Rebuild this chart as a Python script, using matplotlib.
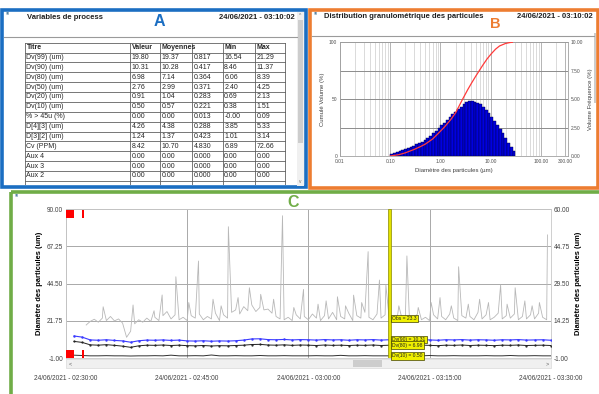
import matplotlib.pyplot as plt
from matplotlib.patches import Rectangle
from matplotlib.ticker import LogLocator, NullFormatter
import numpy as np

plt.rcParams['font.family'] = ['Liberation Sans', 'DejaVu Sans']

W, H = 599, 394

# ---- panel A : table "Variables de process" ----
table_header = ["Titre", "Valeur", "Moyennes", "", "Min", "Max"]
row_titles = ["Dv(99) (um)", "Dv(90) (um)", "Dv(80) (um)", "Dv(50) (um)", "Dv(20) (um)",
              "Dv(10) (um)", "% > 45u (%)", "D[4][3] (um)", "D[3][2] (um)", "Cv (PPM)",
              "Aux 4", "Aux 3", "Aux 2"]
valeur = [19.80, 10.31, 6.98, 2.76, 0.91, 0.50, 0.00, 4.26, 1.24, 8.42, 0.00, 0.00, 0.00]
moyenne = [19.37, 10.28, 7.14, 2.99, 1.04, 0.57, 0.00, 4.38, 1.37, 10.70, 0.00, 0.00, 0.00]
ecart = [0.817, 0.417, 0.364, 0.371, 0.283, 0.221, 0.013, 0.288, 0.423, 4.830, 0.000, 0.000, 0.000]
minimum = [16.54, 8.46, 6.06, 2.40, 0.69, 0.38, -0.00, 3.85, 1.01, 6.89, 0.00, 0.00, 0.00]
maximum = [21.29, 11.37, 8.39, 4.25, 2.13, 1.51, 0.09, 5.33, 3.14, 72.66, 0.00, 0.00, 0.00]

# ---- panel B : particle size distribution ----
vol_freq = [0.20, 0.28, 0.36, 0.44, 0.50, 0.58, 0.66, 0.79, 0.90, 1.03,
            1.15, 1.27, 1.39, 1.58, 1.79, 1.99, 2.20, 2.45, 2.69, 2.93,
            3.18, 3.42, 3.66, 3.91, 4.12, 4.34, 4.56, 4.72, 4.81, 4.83,
            4.78, 4.67, 4.55, 4.35, 4.05, 3.78, 3.47, 3.10, 2.74, 2.38,
            1.98, 1.57, 1.17, 0.78, 0.40]
cum_size = [0.1, 0.15, 0.2, 0.3, 0.4, 0.5, 0.7, 0.91, 1.2, 1.6, 2.0, 2.76, 3.5, 4.2,
            5.0, 6.0, 6.98, 8.5, 10.31, 12.5, 15.0, 19.8, 24.0, 27.0]
cum_vol = [0.0, 1.2, 2.8, 5.8, 8.3, 10.5, 15.0, 20.0, 25.5, 32.0, 38.0, 50.0, 58.5, 64.5,
           70.0, 75.5, 80.0, 85.5, 90.0, 94.0, 96.8, 99.0, 99.8, 100.0]
b_xticks = [0.01, 0.1, 1, 10, 100, 300]
b_xlabels = ["0.01", "0.10", "1.00", "10.00", "100.00", "300.00"]

# ---- panel C : time series (minutes after 02:30:00) ----
time_labels = ["24/06/2021 - 02:30:00", "24/06/2021 - 02:45:00", "24/06/2021 - 03:00:00",
               "24/06/2021 - 03:15:00", "24/06/2021 - 03:30:00"]
obs_t = np.arange(2.5, 60.0, 0.5)
obs_base = [19.3, 21.5, 22.8, 21.0, 23.5, 22.0, 24.5, 21.8, 23.0, 20.5,
            11.8, 15.5, 20.0, 22.5, 21.0, 23.5, 21.5, 24.0, 22.0, 25.0,
            27.5, 23.0, 25.5, 22.5, 24.0, 22.0, 25.0, 23.5, 26.0, 22.5,
            24.5, 23.0, 26.5, 22.0, 25.5, 23.5, 27.0, 28.5, 26.0, 30.5,
            28.0, 31.5, 27.5, 30.0, 28.5, 29.0, 26.5, 24.5, 23.0, 22.5,
            24.0, 22.0, 25.5, 23.0, 24.5, 22.5, 26.0, 23.5, 22.0, 25.0,
            23.0, 27.0, 22.5, 24.5, 23.0, 26.5, 22.0, 25.0, 23.5, 27.0,
            24.0, 22.5, 26.0, 23.5, 25.5, 23.3, 21.5, 23.5, 25.0, 22.0,
            24.5, 23.0, 26.0, 22.5, 24.0, 22.0, 25.5, 23.0, 24.5, 22.5,
            26.0, 23.5, 22.0, 25.0, 23.5, 24.5, 22.5, 27.0, 23.0, 25.5,
            22.5, 24.0, 26.5, 23.0, 25.0, 23.5, 26.0, 22.5, 24.5, 23.0,
            25.5, 23.0, 26.5, 24.0, 22.5]
spike_t = [4.6, 8.3, 10.9, 11.9, 13.6, 15.2, 16.4, 18.2, 19.2, 20.1, 21.3, 22.7, 24.1,
           25.7, 26.8, 28.2, 29.4, 31.2, 32.2, 33.6, 34.6, 35.6, 36.6, 37.4, 38.8,
           39.6, 41.2, 42.2, 43.6, 45.2, 46.3, 47.7, 48.6, 49.8, 51.2, 52.3, 53.8,
           54.6, 55.6, 56.8, 57.7, 58.6, 59.6]
spike_v = [30.4, 31.5, 28.0, 37.6, 48.7, 33.0, 58.3, 35.0, 31.0, 79.2, 36.0, 42.0, 38.0,
           35.0, 85.9, 30.0, 41.0, 32.0, 34.0, 36.5, 31.0, 37.5, 33.0, 64.0, 46.7,
           43.7, 31.0, 61.4, 30.0, 33.0, 36.0, 31.0, 54.8, 32.0, 35.0, 33.0, 43.7,
           32.0, 42.0, 34.0, 31.0, 33.0, 74.2]
dv_t = np.arange(1, 61)
dv90 = [12.6, 11.9, 10.2, 10.0, 10.3, 9.9, 9.6, 8.8, 9.7, 10.1,
        10.0, 10.2, 9.9, 10.1, 9.6, 9.5, 9.7, 9.4, 9.6, 9.5,
        9.7, 10.1, 10.8, 10.9, 10.4, 10.3, 10.5, 10.2, 10.4, 10.3,
        10.1, 10.4, 10.2, 10.3, 10.0, 10.3, 10.2, 10.4, 10.1, 10.31,
        10.2, 10.4, 10.1, 10.3, 10.2, 10.0, 10.3, 10.2, 10.4, 10.1,
        10.3, 10.2, 10.0, 10.3, 10.2, 10.4, 10.1, 10.2, 10.3, 10.0]
dv80 = [9.3, 8.7, 7.2, 7.0, 7.3, 6.9, 6.4, 5.7, 6.6, 7.0,
        6.9, 7.1, 6.8, 7.0, 6.7, 6.6, 6.8, 6.5, 6.7, 6.6,
        6.8, 7.0, 7.4, 7.5, 7.1, 7.0, 7.2, 6.9, 7.1, 7.0,
        6.8, 7.1, 6.9, 7.0, 6.8, 7.0, 6.9, 7.1, 6.8, 6.98,
        6.9, 7.1, 6.8, 7.0, 6.9, 6.7, 7.0, 6.9, 7.1, 6.8,
        7.0, 6.9, 6.7, 7.0, 6.9, 7.1, 6.8, 6.9, 7.0, 6.8]
dv10 = [0.9, 0.7, 0.5, 0.5, 0.6, 0.5, 0.5, 0.4, 0.5, 0.5,
        0.6, 0.5, 0.9, 0.5, 0.5, 0.6, 0.5, 1.0, 0.5, 0.5,
        0.6, 0.5, 0.5, 0.7, 0.5, 0.5, 0.6, 0.5, 0.5, 0.5,
        0.6, 0.5, 0.5, 0.8, 0.5, 0.5, 0.6, 0.5, 0.5, 0.50,
        0.5, 0.6, 0.5, 0.5, 0.7, 0.5, 0.5, 0.6, 0.5, 0.5,
        0.5, 0.6, 0.5, 0.5, 0.7, 0.5, 0.5, 0.6, 0.5, 0.5]
cursor_t = 40.03
cursor_labels = ["Obs = 23.3", "Dv(90) = 10.31", "Dv(80) = 6.98", "Dv(10) = 0.50"]
cursor_vals = [23.3, 10.31, 6.98, 0.50]
red_start = [0.05, 1.95]
red_end = [1.0, 2.25]

BLUE = '#1b6ec2'
ORANGE = '#ed7d31'
GREEN = '#70ad47'
TXT = '#262626'


def px_axes(x0, y0, x1, y1):
    return fig.add_axes([x0 / W, 1 - y1 / H, (x1 - x0) / W, (y1 - y0) / H])


fig = plt.figure(figsize=(W / 100, H / 100), dpi=100)
bg = fig.add_axes([0, 0, 1, 1])
bg.set_xlim(0, W)
bg.set_ylim(H, 0)
bg.axis('off')

# panel frames
bg.add_patch(Rectangle((2, 10), 304, 177, fill=False, ec=BLUE, lw=2.6))
bg.add_patch(Rectangle((310, 9.5), 287.5, 178.5, fill=False, ec=ORANGE, lw=2.6))
bg.add_patch(Rectangle((11, 192), 620, 240, fill=False, ec=GREEN, lw=2.6))

# panel A header
bg.text(27, 17, "Variables de process", fontsize=5.5, weight='bold', va='center', color='#202020')
bg.text(295, 17, "24/06/2021 - 03:10:02", fontsize=5.5, weight='bold', va='center', ha='right', color='#202020')
bg.text(159, 21, "A", fontsize=11.5, weight='bold', color=BLUE, ha='center', va='center')
bg.plot([4, 297], [36.5, 36.5], color='#9a9a9a', lw=0.8)
bg.text(8, 14, "ᵍᵍ", fontsize=4, color='#4a7a9a', ha='center', va='center')
# scrollbar A
bg.add_patch(Rectangle((297, 11.5), 7, 174, fc='#f0f0f0', ec='none'))
bg.add_patch(Rectangle((298, 20), 5, 123, fc='#cdcdcd', ec='none'))
bg.text(300.5, 15, "^", fontsize=3.5, color='#707070', ha='center', va='center')
bg.text(300.5, 181, "v", fontsize=3.5, color='#707070', ha='center', va='center')

# panel B header
bg.text(324, 16.5, "Distribution granulométrique des particules", fontsize=5.5, weight='bold',
        va='center', color='#202020')
bg.text(593, 16.5, "24/06/2021 - 03:10:02", fontsize=5.5, weight='bold', va='center', ha='right',
        color='#202020')
bg.text(495.5, 24.3, "B", fontsize=10.5, weight='bold', color=ORANGE, ha='center', va='center')
bg.plot([312, 594], [36, 36], color='#9a9a9a', lw=0.8)
bg.text(316, 14, "ᵍᵍ", fontsize=4, color='#4a7a9a', ha='center', va='center')
bg.add_patch(Rectangle((593.5, 33), 2.5, 70, fc='#cdcdcd', ec='none'))

# panel C header + scrollbar
bg.text(293, 202.5, "C", fontsize=11.5, weight='bold', color=GREEN, ha='center', va='center')
bg.text(17, 196, "ᵍᵍ", fontsize=4, color='#4a7a9a', ha='center', va='center')
bg.add_patch(Rectangle((66, 359), 485, 9, fc='#f0f0f0', ec='#dadada', lw=0.5))
bg.add_patch(Rectangle((353, 360), 29, 7, fc='#cdcdcd', ec='none'))
bg.text(70, 363.5, "<", fontsize=4, color='#606060', ha='center', va='center')
bg.text(547, 363.5, ">", fontsize=4, color='#606060', ha='center', va='center')

# ---- table ----
ta = px_axes(4, 38, 296, 184.5)
ta.set_xlim(4, 296)
ta.set_ylim(184.5, 38)
ta.axis('off')
col_x = [25, 130, 160, 192.3, 222.7, 255, 285]
row_y0, row_h = 42.7, 9.87
n_rows = len(row_titles) + 1
for j, head in enumerate(table_header):
    ta.text(col_x[j] + 1.5, row_y0 + row_h / 2, head, fontsize=5, weight='bold',
            va='center', color=TXT, clip_on=True)
cells = list(zip(row_titles,
                 [f"{v:.2f}" for v in valeur],
                 [f"{v:.2f}" for v in moyenne],
                 [f"{v:.3f}" for v in ecart],
                 [f"{v:.2f}" for v in minimum],
                 [f"{v:.2f}" for v in maximum]))
for i, row in enumerate(cells):
    yc = row_y0 + (i + 1.5) * row_h
    for j, txt in enumerate(row):
        ta.text(col_x[j] + 1.5, yc, txt, fontsize=5, va='center', color=TXT, clip_on=True)
for i in range(n_rows + 1):
    y = row_y0 + i * row_h
    ta.plot([col_x[0], col_x[-1]], [y, y], color='#606060', lw=0.6)
for x in col_x:
    ta.plot([x, x], [row_y0, 190], color='#606060', lw=0.6)

# ---- panel B ----
axB = px_axes(340, 42.3, 568.3, 156)
axB2 = axB.twinx()
bin_edges = np.geomspace(0.1, 31.0, len(vol_freq) + 1)
axB.bar(bin_edges[:-1], vol_freq, width=np.diff(bin_edges), align='edge',
        color='#0000e0', edgecolor='#000040', linewidth=0.3)
axB.set_xscale('log')
axB.set_xlim(0.01, 350)
axB.set_ylim(0, 10)
axB.set_axisbelow(True)
axB.yaxis.tick_right()
axB.yaxis.set_label_position('right')
axB.set_yticks([0, 2.5, 5, 7.5, 10])
axB.set_yticklabels(["0.00", "2.50", "5.00", "7.50", "10.00"])
axB.set_xticks(b_xticks)
axB.set_xticklabels(b_xlabels)
axB.xaxis.set_minor_locator(LogLocator(base=10, subs=np.arange(2, 10)))
axB.xaxis.set_minor_formatter(NullFormatter())
axB.grid(True, which='major', axis='y', color='#8c8c8c', lw=0.7)
axB.grid(True, which='major', axis='x', color='#a8a8a8', lw=0.6)
axB.grid(True, which='minor', axis='x', color='#cccccc', lw=0.5)
axB.tick_params(which='both', length=0, labelsize=3.5, colors='#505050', pad=2)
axB.set_xlabel("Diamètre des particules (µm)", fontsize=4.3, color='#404040', labelpad=3)
axB.set_ylabel("Volume Fréquence (%)", fontsize=4.3, color='#404040', labelpad=3)
for s in axB.spines.values():
    s.set_color('#a0a0a0')
    s.set_linewidth(0.6)

axB2.plot(cum_size, cum_vol, color='#ff3a3a', lw=0.9)
axB2.set_ylim(0, 100)
axB2.yaxis.tick_left()
axB2.yaxis.set_label_position('left')
axB2.set_yticks([0, 50, 100])
axB2.set_yticklabels(["0", "50", "100"])
axB2.tick_params(length=0, labelsize=3.5, colors='#505050', pad=2)
axB2.set_ylabel("Cumulé Volume (%)", fontsize=4.3, color='#404040', labelpad=3)
for s in axB2.spines.values():
    s.set_visible(False)

# ---- panel C ----
axC = px_axes(66, 209, 550.7, 358.3)
axC2 = axC.twinx()
t_all = np.concatenate([obs_t, spike_t])
v_all = np.concatenate([obs_base, spike_v])
order = np.argsort(t_all)
axC.plot(t_all[order], v_all[order], color='#b8b8b8', lw=0.6, zorder=3)
axC.plot(dv_t, dv90, color='#3a3aff', lw=0.8, marker='.', markersize=1.5, zorder=4)
axC.plot(dv_t, dv80, color='#202020', lw=0.7, marker='.', markersize=1.2, zorder=4)
axC.plot(dv_t, dv10, color='#303030', lw=0.7, zorder=4)
for s, e in zip(red_start, red_end):
    axC.axvspan(s, e, ymin=0.938, ymax=0.993, color='#ff0000', lw=0, zorder=6)
    axC.axvspan(s, e, ymin=0.0, ymax=0.055, color='#ff0000', lw=0, zorder=6)
axC.axvspan(cursor_t - 0.2, cursor_t + 0.2, fc='#e2e200', ec='#8a8a00', lw=0.5, zorder=7)
for lab, val in zip(cursor_labels, cursor_vals):
    axC.text(cursor_t + 0.35, val, lab, fontsize=3.6, color='#202020', ha='left', va='center',
             zorder=8, bbox=dict(boxstyle='square,pad=0.25', fc='#f0f000', ec='#404000', lw=0.5))
axC.set_xlim(0, 60)
axC.set_ylim(-1, 90)
axC.set_xticks([0, 15, 30, 45, 60])
axC.set_xticklabels(time_labels)
left_ticks = [-1, 21.75, 44.5, 67.25, 90]
axC.yaxis.tick_left()
axC.set_yticks(left_ticks)
axC.set_yticklabels([f"{v:.2f}" for v in left_ticks])
axC.grid(True, color='#a9a9a9', lw=0.7)
axC.set_axisbelow(True)
axC.tick_params(axis='x', length=0, labelsize=4.7, colors='#404040', pad=12)
axC.tick_params(axis='y', length=0, labelsize=4.7, colors='#404040', pad=2)
axC.set_ylabel("Diamètre des particules (um)", fontsize=5.4, weight='bold', labelpad=3)
for s in axC.spines.values():
    s.set_color('#c8c8c8')
    s.set_linewidth(0.6)

axC2.set_ylim(-1, 60)
right_ticks = [-1, 14.25, 29.5, 44.75, 60]
axC2.set_yticks(right_ticks)
axC2.set_yticklabels([f"{v:.2f}" for v in right_ticks])
axC2.tick_params(length=0, labelsize=4.7, colors='#404040', pad=2)
axC2.set_ylabel("Diamètre des particules (um)", fontsize=5.4, weight='bold', labelpad=4)
for s in axC2.spines.values():
    s.set_visible(False)

fig.savefig('out.png', dpi=100)
